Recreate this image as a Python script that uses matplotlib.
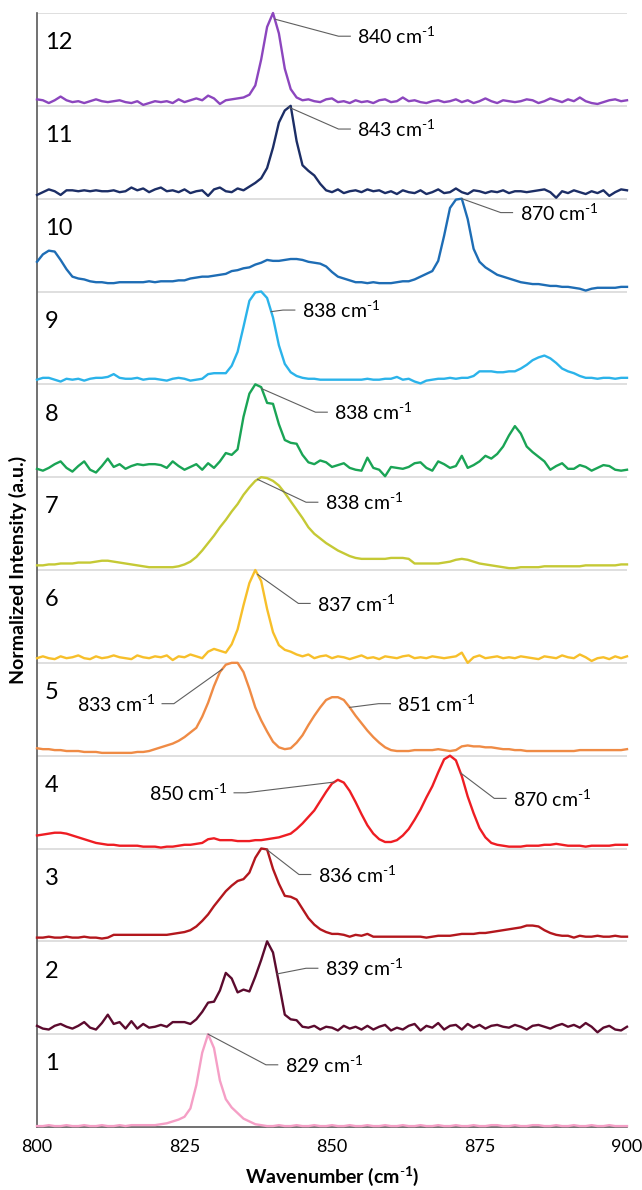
#!/usr/bin/env python
"""
Stacked Raman spectra (12 samples), 800-900 cm-1 window.
Each trace is normalised to its own strongest band and sits in its own strip.
"""

import matplotlib
matplotlib.use("Agg")
import matplotlib.pyplot as plt
import numpy as np

plt.rcParams['font.family'] = ['Lato', 'DejaVu Sans']
plt.rcParams['mathtext.fontset'] = 'custom'
plt.rcParams['mathtext.rm'] = 'Lato'
plt.rcParams['mathtext.bf'] = 'Lato:bold'

# Wavenumber axis shared by all traces (cm-1)
WAVENUMBER = np.arange(800, 901)

# Normalised intensities, one value per cm-1 (800..900)
S1 = [.01, .01, .02, .01, .01, .02, .01, .01, .02, .01,
      .01, .02, .01, .01, .02, .01, .02, .02, .02, .02,
      .02, .03, .04, .06, .08, .11, .20, .45, .80, 1.0,
      .85, .50, .30, .21, .15, .09, .06, .03, .02, .01,
      .01, .02, .01, .01, .02, .01, .01, .02, .01, .01,
      .02, .01, .01, .02, .01, .01, .02, .01, .01, .02,
      .01, .01, .02, .01, .01, .02, .01, .01, .02, .01,
      .01, .02, .01, .01, .02, .01, .01, .02, .02, .01,
      .01, .02, .01, .01, .02, .02, .01, .01, .02, .01,
      .01, .02, .01, .01, .02, .01, .01, .02, .01, .01,
      .01]
S2 = [.09, .06, .05, .09, .11, .08, .06, .09, .13, .07,
      .05, .12, .21, .11, .13, .06, .14, .06, .11, .07,
      .08, .10, .08, .13, .13, .13, .11, .16, .24, .34,
      .35, .47, .66, .60, .45, .48, .46, .62, .80, 1.0,
      .88, .55, .21, .16, .15, .08, .07, .09, .05, .08,
      .07, .04, .09, .06, .08, .05, .09, .05, .08, .10,
      .04, .07, .05, .09, .11, .04, .09, .07, .12, .05,
      .09, .10, .05, .11, .07, .10, .06, .09, .10, .08,
      .07, .10, .08, .05, .09, .10, .08, .06, .09, .11,
      .08, .10, .07, .12, .08, .02, .07, .09, .05, .04,
      .08]
S3 = [.04, .04, .05, .04, .04, .05, .04, .04, .05, .04,
      .04, .03, .04, .07, .07, .07, .07, .07, .07, .07,
      .07, .07, .07, .08, .09, .10, .12, .16, .22, .29,
      .38, .46, .54, .60, .65, .67, .74, .90, 1.0, .99,
      .78, .62, .49, .48, .45, .35, .25, .18, .13, .10,
      .08, .08, .07, .05, .07, .06, .08, .05, .05, .05,
      .05, .05, .05, .05, .05, .05, .04, .05, .06, .06,
      .06, .07, .08, .08, .08, .09, .09, .10, .11, .12,
      .13, .14, .15, .17, .17, .16, .12, .09, .07, .06,
      .06, .04, .06, .05, .05, .06, .05, .05, .06, .05,
      .05]
S4 = [.14, .15, .16, .17, .17, .16, .14, .12, .10, .08,
      .06, .05, .04, .04, .03, .03, .03, .03, .02, .02,
      .02, .01, .02, .02, .03, .04, .04, .05, .06, .10,
      .11, .09, .09, .09, .08, .08, .08, .09, .09, .10,
      .11, .12, .14, .16, .21, .27, .34, .41, .51, .61,
      .70, .74, .71, .62, .50, .37, .25, .16, .10, .07,
      .07, .09, .14, .21, .31, .42, .55, .67, .82, .96,
      1.0, .95, .78, .56, .38, .22, .12, .06, .04, .03,
      .02, .02, .02, .03, .03, .03, .04, .04, .05, .04,
      .03, .03, .03, .02, .03, .03, .03, .03, .04, .04,
      .04]
S5 = [.08, .07, .07, .06, .06, .05, .05, .05, .04, .04,
      .04, .03, .03, .03, .03, .03, .03, .04, .04, .05,
      .07, .09, .11, .13, .16, .20, .25, .30, .42, .57,
      .75, .90, .98, 1.0, 1.0, .90, .72, .52, .38, .26,
      .15, .09, .07, .08, .14, .22, .33, .43, .52, .60,
      .63, .63, .60, .52, .43, .35, .27, .20, .14, .09,
      .06, .05, .05, .05, .06, .06, .06, .06, .07, .06,
      .05, .06, .10, .11, .10, .10, .09, .09, .08, .07,
      .07, .06, .06, .05, .05, .05, .05, .05, .05, .05,
      .05, .05, .06, .06, .06, .06, .06, .06, .06, .06,
      .07]
S6 = [.05, .07, .05, .04, .07, .05, .06, .08, .05, .04,
      .07, .05, .06, .08, .06, .05, .04, .08, .06, .05,
      .07, .06, .08, .03, .07, .06, .09, .07, .05, .12,
      .15, .13, .11, .20, .36, .62, .86, 1.0, .88, .58,
      .33, .19, .14, .12, .09, .07, .09, .05, .07, .08,
      .05, .07, .06, .04, .06, .08, .05, .06, .04, .07,
      .06, .05, .07, .08, .05, .06, .05, .07, .06, .05,
      .06, .07, .11, .00, .06, .08, .05, .06, .07, .05,
      .06, .05, .07, .06, .05, .04, .07, .06, .05, .08,
      .06, .05, .09, .06, .02, .05, .06, .04, .07, .05,
      .07]
S7 = [.05, .05, .06, .06, .07, .07, .07, .08, .08, .08,
      .09, .10, .10, .09, .08, .07, .06, .05, .04, .03,
      .03, .03, .03, .03, .04, .06, .09, .14, .21, .29,
      .37, .46, .54, .63, .71, .81, .89, .96, 1.0, .99,
      .96, .91, .83, .74, .65, .56, .46, .39, .34, .29,
      .25, .21, .18, .15, .13, .12, .12, .12, .12, .12,
      .13, .13, .13, .12, .07, .07, .07, .07, .07, .08,
      .09, .11, .12, .11, .09, .07, .06, .05, .04, .03,
      .02, .02, .03, .03, .03, .03, .04, .04, .04, .04,
      .04, .04, .04, .05, .05, .05, .05, .05, .05, .06,
      .06]
S8 = [.09, .07, .10, .14, .17, .10, .06, .12, .17, .08,
      .05, .12, .20, .11, .14, .09, .12, .14, .13, .14,
      .14, .13, .10, .17, .12, .08, .11, .14, .08, .15,
      .10, .17, .26, .24, .30, .65, .90, 1.0, .97, .80,
      .79, .57, .40, .37, .36, .24, .16, .14, .18, .16,
      .11, .13, .15, .10, .08, .07, .21, .10, .08, .01,
      .11, .10, .09, .11, .15, .16, .10, .07, .17, .14,
      .10, .12, .23, .10, .13, .17, .23, .20, .25, .33,
      .45, .55, .47, .33, .27, .22, .17, .08, .12, .15,
      .09, .09, .13, .11, .07, .10, .13, .12, .08, .07,
      .08]
S9 = [.05, .07, .07, .05, .03, .06, .05, .06, .04, .06,
      .07, .07, .08, .11, .07, .06, .06, .07, .05, .06,
      .06, .05, .04, .06, .07, .06, .04, .05, .06, .11,
      .12, .12, .12, .20, .35, .62, .90, .99, 1.0, .93,
      .72, .42, .22, .13, .09, .07, .06, .06, .05, .05,
      .05, .05, .05, .05, .05, .05, .06, .05, .05, .06,
      .06, .08, .05, .06, .03, .01, .04, .05, .06, .06,
      .07, .06, .07, .07, .09, .14, .14, .14, .13, .13,
      .14, .14, .17, .21, .26, .29, .31, .28, .23, .17,
      .14, .12, .09, .07, .07, .06, .07, .07, .06, .07,
      .07]
S10 = [.32, .40, .44, .43, .34, .24, .16, .14, .13, .11,
       .10, .10, .09, .09, .10, .10, .10, .10, .10, .11,
       .10, .11, .11, .11, .12, .12, .14, .15, .16, .16,
       .17, .18, .19, .22, .23, .25, .26, .29, .31, .34,
       .33, .33, .34, .35, .35, .34, .32, .31, .30, .27,
       .21, .16, .14, .12, .10, .10, .09, .10, .09, .09,
       .09, .10, .11, .11, .13, .16, .19, .22, .33, .60,
       .90, .99, 1.0, .78, .46, .32, .26, .22, .18, .16,
       .14, .12, .10, .09, .08, .08, .07, .06, .06, .05,
       .05, .04, .03, .01, .03, .04, .04, .04, .04, .05,
       .05]
S11 = [.04, .07, .10, .08, .04, .09, .09, .08, .09, .08,
       .09, .08, .08, .09, .07, .08, .12, .09, .11, .07,
       .10, .12, .08, .09, .07, .10, .06, .08, .09, .03,
       .10, .12, .08, .07, .11, .09, .13, .17, .22, .33,
       .55, .82, .95, 1.0, .62, .36, .30, .25, .16, .09,
       .07, .10, .06, .08, .09, .07, .10, .08, .09, .06,
       .08, .05, .09, .07, .06, .09, .05, .07, .10, .06,
       .07, .11, .07, .05, .09, .08, .06, .08, .07, .09,
       .06, .08, .08, .07, .08, .09, .10, .07, .01, .08,
       .06, .09, .07, .05, .08, .06, .09, .03, .07, .10,
       .09]
S12 = [.07, .06, .03, .06, .10, .06, .04, .05, .03, .05,
       .07, .05, .04, .05, .06, .04, .03, .05, .01, .03,
       .05, .04, .05, .03, .07, .04, .06, .08, .06, .11,
       .08, .02, .06, .07, .08, .09, .12, .22, .50, .85,
       1.0, .78, .40, .18, .09, .06, .07, .05, .04, .07,
       .08, .04, .05, .03, .06, .04, .05, .03, .06, .07,
       .04, .05, .09, .05, .06, .04, .03, .05, .06, .04,
       .05, .07, .04, .06, .03, .05, .08, .05, .03, .06,
       .05, .04, .05, .07, .06, .03, .05, .08, .06, .04,
       .07, .05, .09, .05, .03, .02, .04, .06, .07, .05,
       .06]

SPECTRA = [S1, S2, S3, S4, S5, S6, S7, S8, S9, S10, S11, S12]
SAMPLE_LABELS = ['1', '2', '3', '4', '5', '6', '7', '8', '9', '10', '11', '12']
COLORS = ['#f59fc6', '#5c0b2e', '#b3171d', '#ee1d23', '#ef8b45', '#f7bf2a',
          '#c5c935', '#1aa455', '#2bb3ea', '#1e6db5', '#1c2e66', '#8c46be']

# Peak call-outs: label, sample strip, point on trace, label anchor, side
ANN_TEXT = ['829', '839', '836', '850', '870', '833', '851', '837',
            '838', '838', '838', '870', '843', '840']
ANN_SAMPLE = [1, 2, 3, 4, 4, 5, 5, 6, 7, 8, 9, 10, 11, 12]
ANN_PEAK = [829.0, 840.7, 838.9, 850.4, 871.8, 831.4, 853.0, 837.4,
            837.4, 838.1, 839.7, 872.0, 842.7, 840.3]
ANN_X = [842.0, 848.8, 847.6, 832.2, 880.7, 820.0, 861.1, 847.5,
         848.8, 850.4, 844.9, 881.8, 854.3, 854.3]
ANN_Y = [0.67, 1.71, 2.72, 3.60, 3.54, 4.56, 4.56, 5.64,
         6.73, 7.70, 8.80, 9.85, 10.75, 11.75]
ANN_SIDE = ['r', 'r', 'r', 'l', 'r', 'l', 'r', 'r', 'r', 'r', 'r', 'r', 'r', 'r']

UNIT = r' cm$^{\mathregular{\text{-}1}}$'


def create_plot():
    fig = plt.figure(figsize=(6.42, 11.9), dpi=100)
    ax = fig.add_axes([37 / 642, 63 / 1190, 590 / 642, 1114 / 1190])

    n = len(SPECTRA)

    # strip separators
    ax.set_yticks(np.arange(1, n + 1))
    ax.set_yticklabels([])
    ax.yaxis.grid(True, color='#d9d9d9', linewidth=1.2)
    ax.set_axisbelow(True)

    for i, (spec, col) in enumerate(zip(SPECTRA, COLORS)):
        ax.plot(WAVENUMBER, np.array(spec) + i, color=col, linewidth=1.7,
                solid_joinstyle='round', clip_on=False, zorder=3)
        ax.text(801.3, i + 1 - 0.32, SAMPLE_LABELS[i], fontsize=17,
                ha='left', va='center', color='black')

    # leader lines + peak labels
    for txt, k, px, tx, ty, side in zip(ANN_TEXT, ANN_SAMPLE, ANN_PEAK,
                                        ANN_X, ANN_Y, ANN_SIDE):
        py = np.interp(px, WAVENUMBER, SPECTRA[k - 1]) + (k - 1)
        if side == 'r':
            elbow, tail = tx - 3.2, tx - 1.2
            ha = 'left'
        else:
            elbow, tail = tx + 3.2, tx + 1.2
            ha = 'right'
        ax.plot([px, elbow, tail], [py, ty, ty], color='#5f5f5f',
                linewidth=0.8, zorder=4)
        ax.text(tx, ty, txt + UNIT, fontsize=14,
                ha=ha, va='center', color='black', zorder=5)

    ax.set_xlim(800, 900)
    ax.set_ylim(0, n)
    ax.set_xticks([800, 825, 850, 875, 900])
    ax.tick_params(axis='x', length=0, labelsize=13, pad=9)
    ax.tick_params(axis='y', length=0)

    for side in ['top', 'right']:
        ax.spines[side].set_visible(False)
    for side in ['left', 'bottom']:
        ax.spines[side].set_color('#595959')
        ax.spines[side].set_linewidth(1.2)

    ax.set_xlabel(r'Wavenumber (cm$^{\mathregular{\text{-}1}}$)', fontsize=14,
                  fontweight='bold', labelpad=6)
    ax.set_ylabel('Normalized Intensity (a.u.)', fontsize=14,
                  fontweight='bold', labelpad=4)

    fig.savefig('out.png', dpi=100)
    plt.close(fig)


if __name__ == "__main__":
    create_plot()
